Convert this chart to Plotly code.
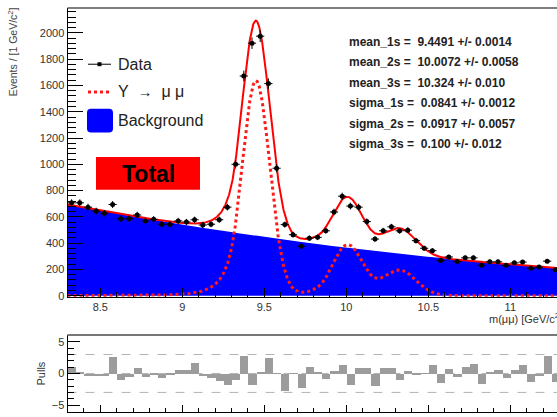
import numpy as np
import plotly.graph_objects as go

# ---------------------------------------------------------------
# Dimuon invariant mass spectrum in the Upsilon region (50 MeV bins)
# ---------------------------------------------------------------
bin_centers = [
    8.325, 8.375, 8.425, 8.475, 8.525, 8.575, 8.625, 8.675, 8.725, 8.775,
    8.825, 8.875, 8.925, 8.975, 9.025, 9.075, 9.125, 9.175, 9.225, 9.275,
    9.325, 9.375, 9.425, 9.475, 9.525, 9.575, 9.625, 9.675, 9.725, 9.775,
    9.825, 9.875, 9.925, 9.975, 10.025, 10.075, 10.125, 10.175, 10.225, 10.275,
    10.325, 10.375, 10.425, 10.475, 10.525, 10.575, 10.625, 10.675, 10.725, 10.775,
    10.825, 10.875, 10.925, 10.975, 11.025, 11.075, 11.125, 11.175, 11.225, 11.275,
]
bin_half_width = 0.025

counts = [
    707, 707, 674, 644, 627, 694, 586, 586, 614, 569,
    581, 544, 544, 569, 561, 578, 538, 544, 578, 674,
    1000, 1672, 1922, 1975, 1614, 970, 541, 464, 376, 438,
    444, 494, 637, 757, 682, 674, 564, 431, 494, 524,
    494, 499, 419, 361, 343, 268, 295, 261, 288, 288,
    231, 258, 258, 231, 250, 256, 209, 218, 263, 198,
]

pulls = [
    1.0, 0.1, -0.4, -0.4, -0.4, 2.6, -1.1, -0.5, 0.8, -0.5,
    -0.1, -0.7, -0.3, 0.5, 0.5, 1.6, -0.4, -0.7, -1.2, -1.8,
    -1.0, 2.8, -1.8, 0.1, 2.5, 0.05, -2.8, -0.05, -2.3, 1.0,
    0.1, -0.9, 0.4, 1.4, -1.8, 0.9, 0.9, -1.9, 0.85, 0.85,
    -1.0, 0.4, -0.2, 0.05, 1.4, -1.5, 0.7, -0.6, 1.1, 1.5,
    -1.6, 0.1, 0.5, -0.7, 0.6, 1.4, -1.4, -0.4, 2.8, -1.4,
]

# Fit model: three Crystal Ball peaks on a quadratic background
peak_names = ["1s", "2s", "3s"]
means = [9.4491, 10.0072, 10.324]
mean_errs = ["0.0014", "0.0058", "0.010"]
mean_txt = ["9.4491", "10.0072", "10.324"]
sigmas = [0.0841, 0.0917, 0.100]
sigma_errs = ["0.0012", "0.0057", "0.012"]
sigma_txt = ["0.0841", "0.0917", "0.100"]
amplitudes = [1635.0, 380.0, 195.0]
cb_alpha = 1.5
cb_n = 5.0
bg_coeffs = [694.0, -235.0, 24.5]   # polynomial in (m - 8.3)

y_tick_vals = [0, 200, 400, 600, 800, 1000, 1200, 1400, 1600, 1800, 2000]
x_tick_vals = [8.5, 9.0, 9.5, 10.0, 10.5, 11.0]
x_tick_text = ["8.5", "9", "9.5", "10", "10.5", "11"]
pull_tick_vals = [-5, 0, 5]
pull_tick_text = ["\u22125", "0", "5"]

FONT = "Liberation Sans, Arial, Helvetica, sans-serif"
W, H = 557, 417


def fx(px):
    return px / W


def fy(py):
    return 1.0 - py / H


def crystal_ball(m, mu, sig, alpha, n):
    t = (m - mu) / sig
    out = np.exp(-0.5 * t * t)
    a = (n / alpha) ** n * np.exp(-0.5 * alpha ** 2)
    b = n / alpha - alpha
    tail = t < -alpha
    out[tail] = a * (b - t[tail]) ** (-n)
    return out


m = np.linspace(8.3, 11.5, 1601)
dm = m - 8.3
background = bg_coeffs[0] + bg_coeffs[1] * dm + bg_coeffs[2] * dm ** 2
signal = np.zeros_like(m)
for mu, sg, amp in zip(means, sigmas, amplitudes):
    signal += amp * crystal_ball(m, mu, sg, cb_alpha, cb_n)
total = background + signal

data_err = [float(np.sqrt(c)) for c in counts]

fig = go.Figure()

fig.add_trace(go.Scatter(
    x=m, y=background, mode="lines", line=dict(color="#0000ff", width=0),
    fill="tozeroy", fillcolor="#0000ff", hoverinfo="skip",
    xaxis="x", yaxis="y"))
fig.add_trace(go.Scatter(
    x=m, y=signal, mode="lines", line=dict(color="#ff1a1a", width=3, dash="dot"),
    xaxis="x", yaxis="y"))
fig.add_trace(go.Scatter(
    x=m, y=total, mode="lines", line=dict(color="#ff0000", width=2),
    xaxis="x", yaxis="y"))
fig.add_trace(go.Scatter(
    x=bin_centers, y=counts, mode="markers",
    marker=dict(color="black", size=5, symbol="circle"),
    error_y=dict(type="data", array=data_err, color="black", thickness=1, width=0),
    error_x=dict(type="constant", value=bin_half_width, color="black", thickness=1, width=0),
    xaxis="x", yaxis="y"))

fig.add_trace(go.Bar(
    x=bin_centers, y=pulls, width=0.05,
    marker=dict(color="#9c9c9c", line=dict(width=0)),
    xaxis="x2", yaxis="y2"))

x_left = 67.5
x_px_per_gev = 164.0
x_range = [8.3, 8.3 + (W - x_left) / x_px_per_gev]
y_px_per_evt = 0.133
y_zero_px = 299.3
y_min = -8.0
y_max = (y_zero_px - 8.0) / y_px_per_evt

tick_font = dict(family=FONT, size=11, color="#333333")

fig.update_layout(
    width=W, height=H,
    margin=dict(l=0, r=0, t=0, b=0),
    paper_bgcolor="white", plot_bgcolor="white",
    showlegend=False, bargap=0,
    font=dict(family=FONT, color="#222222"),
    xaxis=dict(
        domain=[fx(x_left), 1.0], range=x_range, anchor="y",
        tickmode="array", tickvals=x_tick_vals, ticktext=x_tick_text,
        ticks="inside", ticklen=9, tickwidth=1, tickcolor="black",
        minor=dict(ticks="inside", ticklen=5, tick0=8.3, dtick=0.1, tickcolor="black"),
        showline=True, linecolor="black", linewidth=1,
        showgrid=False, zeroline=False, tickfont=tick_font),
    yaxis=dict(
        domain=[fy(y_zero_px - y_min * y_px_per_evt), fy(8.0)],
        range=[y_min, y_max], anchor="x",
        tickmode="array", tickvals=y_tick_vals,
        ticks="inside", ticklen=15, tickwidth=1, tickcolor="black",
        minor=dict(ticks="inside", ticklen=8, tick0=0, dtick=40, tickcolor="black"),
        showline=True, linecolor="black", linewidth=1,
        showgrid=False, zeroline=False, tickfont=tick_font),
    xaxis2=dict(
        domain=[fx(x_left), 1.0], range=x_range, anchor="y2",
        tickmode="array", tickvals=x_tick_vals, showticklabels=False,
        ticks="inside", ticklen=7, tickwidth=1, tickcolor="black",
        minor=dict(ticks="inside", ticklen=4, tick0=8.3, dtick=0.1, tickcolor="black"),
        showline=True, linecolor="black", linewidth=1,
        showgrid=False, zeroline=False),
    yaxis2=dict(
        domain=[0.0, fy(339)], range=[-6.1, 6.1], anchor="x2",
        tickmode="array", tickvals=pull_tick_vals, ticktext=pull_tick_text,
        ticks="inside", ticklen=12, tickwidth=1, tickcolor="black",
        minor=dict(ticks="inside", ticklen=6, tick0=0, dtick=1, tickcolor="black"),
        showline=True, linecolor="black", linewidth=1,
        showgrid=False, zeroline=False, tickfont=tick_font),
)

shapes = []
# frame top edges
shapes.append(dict(type="line", xref="paper", yref="paper",
                   x0=fx(x_left), x1=1.0, y0=fy(8.0), y1=fy(8.0),
                   line=dict(color="#555555", width=1.5)))
shapes.append(dict(type="line", xref="paper", yref="paper",
                   x0=fx(x_left), x1=1.0, y0=fy(339), y1=fy(339),
                   line=dict(color="#777777", width=2)))
# pull reference lines
for lvl in (-3, 0, 3):
    shapes.append(dict(type="line", xref="paper", yref="y2",
                       x0=fx(x_left), x1=1.0, y0=lvl, y1=lvl,
                       line=dict(color="#b4b4b4", width=1, dash="dash"),
                       layer="below"))

# legend glyphs
shapes.append(dict(type="line", xref="paper", yref="paper",
                   x0=fx(88), x1=fx(111), y0=fy(65), y1=fy(65),
                   line=dict(color="black", width=1)))
shapes.append(dict(type="rect", xref="paper", yref="paper",
                   x0=fx(97.5), x1=fx(101.5), y0=fy(67), y1=fy(63),
                   fillcolor="black", line=dict(width=0)))
shapes.append(dict(type="line", xref="paper", yref="paper",
                   x0=fx(88), x1=fx(112), y0=fy(93), y1=fy(93),
                   line=dict(color="#ff1a1a", width=3, dash="dot")))


def rounded_rect(x0, y0, x1, y1, r):
    pts = [
        ("M", [(x0 + r, y0)]),
        ("L", [(x1 - r, y0)]),
        ("Q", [(x1, y0), (x1, y0 + r)]),
        ("L", [(x1, y1 - r)]),
        ("Q", [(x1, y1), (x1 - r, y1)]),
        ("L", [(x0 + r, y1)]),
        ("Q", [(x0, y1), (x0, y1 - r)]),
        ("L", [(x0, y0 + r)]),
        ("Q", [(x0, y0), (x0 + r, y0)]),
    ]
    s = ""
    for cmd, cs in pts:
        s += cmd + " " + " ".join(f"{fx(a):.5f},{fy(b):.5f}" for a, b in cs) + " "
    return s + "Z"


shapes.append(dict(type="path", xref="paper", yref="paper",
                   path=rounded_rect(87, 110, 113, 134, 4),
                   fillcolor="#0000ff", line=dict(color="#0000ff", width=0)))
# "Total" box
shapes.append(dict(type="rect", xref="paper", yref="paper",
                   x0=fx(96), x1=fx(200), y0=fy(192), y1=fy(159),
                   fillcolor="#ff0000", line=dict(width=0)))

fig.update_layout(shapes=shapes)

annotations = []


def note(text, x, y, size, xanchor="left", color="#222222", angle=0):
    annotations.append(dict(
        text=text, x=fx(x), y=fy(y), xref="paper", yref="paper",
        xanchor=xanchor, yanchor="middle", showarrow=False, textangle=angle,
        font=dict(family=FONT, size=size, color=color)))


note("Events / [1 GeV/c<sup>2</sup>]", 12, 53, 10.5, xanchor="center", color="#444444", angle=-90)
note("m(\u03bc\u03bc) [GeV/c<sup>2</sup>]", 487, 322, 11, color="#333333")
note("Pulls", 41, 378, 11, xanchor="center", color="#333333", angle=-90)

note("Data", 116, 65, 16)
note("Y\u00a0\u00a0<span style='font-size:15px'>\u2192</span>\u00a0\u00a0\u03bc\u00a0\u03bc", 116, 93, 16)
note("Background", 116, 122, 16)
note("<b>Total</b>", 148, 176, 23, xanchor="center", color="black")

rows = []
for name, val, err in zip(peak_names, mean_txt, mean_errs):
    rows.append(f"mean_{name} =\u00a0\u00a0{val} +/- {err}")
for name, val, err in zip(peak_names, sigma_txt, sigma_errs):
    rows.append(f"sigma_{name} =\u00a0\u00a0{val} +/- {err}")
for i, row in enumerate(rows):
    note(f"<b>{row}</b>", 347, 42.5 + 20.7 * i, 12)

fig.update_layout(annotations=annotations)

fig.write_html("out.html")
